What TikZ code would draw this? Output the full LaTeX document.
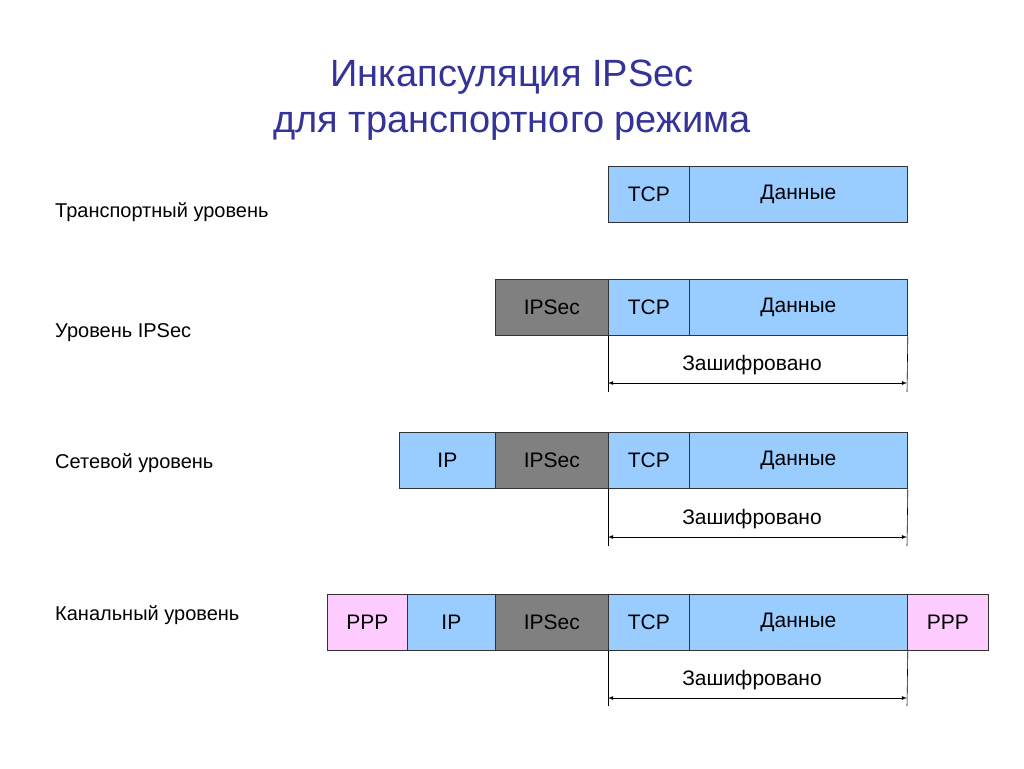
\documentclass[tikz,border=0pt]{standalone}
\usepackage{fontspec}
\setmainfont{Liberation Sans}
\begin{document}
\begin{tikzpicture}[x=1pt,y=-1pt,
  cell/.style={draw=black!80,line width=0.8pt,minimum height=56pt,inner sep=0pt,font=\fontsize{21}{24}\selectfont,anchor=north west},
  bl/.style={cell,fill={rgb,255:red,153;green,204;blue,255}},
  gr/.style={cell,fill={rgb,255:red,128;green,128;blue,128}},
  pk/.style={cell,fill={rgb,255:red,255;green,204;blue,255}},
  lbl/.style={font=\fontsize{20}{24}\selectfont,anchor=west,inner sep=0pt},
  enc/.style={font=\fontsize{21}{24}\selectfont,inner sep=0pt},
  dim/.style={line width=0.8pt,<->,>=latex},
  tick/.style={line width=0.6pt}]
\useasboundingbox (0,0) rectangle (1024,768);
\fill[white] (0,0) rectangle (1024,768);
\node[font=\fontsize{38}{46}\selectfont,text={rgb,255:red,51;green,51;blue,153},align=center] (title) at (512,100) {Инкапсуляция IPSec\\для транспортного режима};
% row 1
\node[bl,minimum width=81pt] (t1) at (608,166) {TCP};
\node[bl,minimum width=218pt] (d1) at (689,166) {Данные};
\node[lbl] (l1) at (55,212) {Транспортный уровень};
% row 2
\node[gr,minimum width=113pt] (s2) at (495,279) {IPSec};
\node[bl,minimum width=81pt] (t2) at (608,279) {TCP};
\node[bl,minimum width=218pt] (d2) at (689,279) {Данные};
\node[lbl] (l2) at (55,333) {Уровень IPSec};
% row 3
\node[bl,minimum width=96pt] (i3) at (399,432) {IP};
\node[gr,minimum width=113pt] (s3) at (495,432) {IPSec};
\node[bl,minimum width=81pt] (t3) at (608,432) {TCP};
\node[bl,minimum width=218pt] (d3) at (689,432) {Данные};
\node[lbl] (l3) at (55,463) {Сетевой уровень};
% row 4
\node[pk,minimum width=80pt] (p4) at (327,594) {PPP};
\node[bl,minimum width=88pt] (i4) at (407,594) {IP};
\node[gr,minimum width=113pt] (s4) at (495,594) {IPSec};
\node[bl,minimum width=81pt] (t4) at (608,594) {TCP};
\node[bl,minimum width=218pt] (d4) at (689,594) {Данные};
\node[pk,minimum width=81pt] (q4) at (907,594) {PPP};
\node[lbl] (l4) at (55,615) {Канальный уровень};
% encrypted markers
\foreach \r/\ty/\ay/\by in {2/365/383/392, 3/519/537/546, 4/680/698/706}{
  \coordinate (a\r) at (608,\ay); \coordinate (b\r) at (907,\ay);
  \coordinate (ta\r) at (608,\by); \coordinate (tb\r) at (907,\by);
  \draw[tick] (t\r.south west) -- (ta\r);
  \draw[tick] (d\r.south east) -- (tb\r);
  \draw[dim] (a\r) -- (b\r);
  \node[enc] (e\r) at (752,\ty) {Зашифровано};
}
\end{tikzpicture}
\end{document}
